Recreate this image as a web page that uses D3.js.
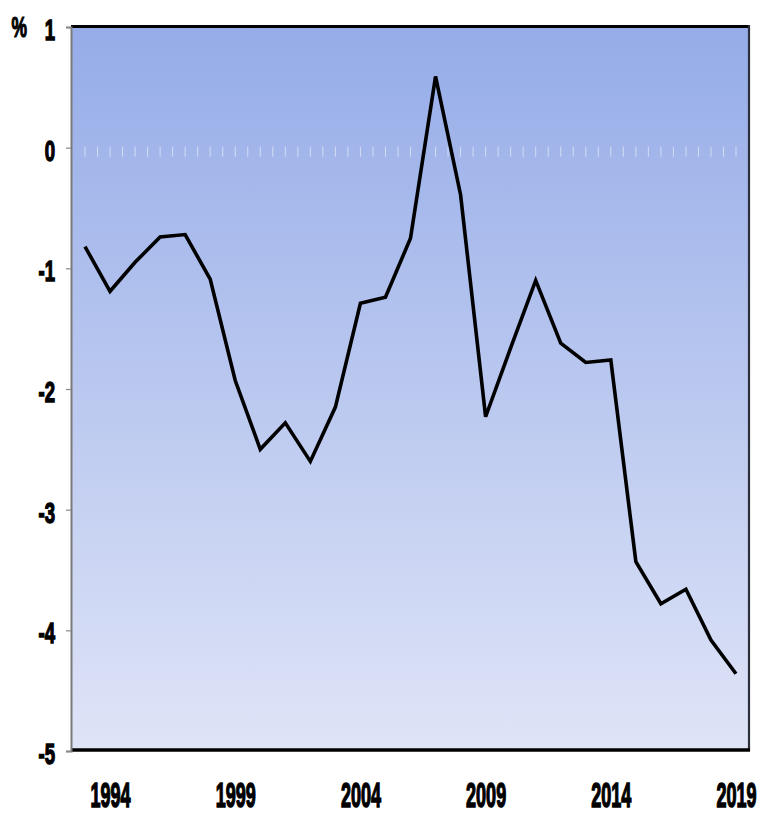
<!DOCTYPE html>
<html>
<head>
<meta charset="utf-8">
<script src="https://cdn.jsdelivr.net/npm/d3@7"></script>
<style>
  html, body { margin: 0; padding: 0; background: #ffffff; }
  svg { display: block; }
  text { font-family: "Liberation Sans", Arial, sans-serif; font-weight: bold; fill: #000; }
</style>
</head>
<body>
<div id="chart"></div>
<script>
// ---- data ----
const years = [1993, 1994, 1995, 1996, 1997, 1998, 1999, 2000, 2001, 2002, 2003, 2004, 2005, 2006,
               2007, 2008, 2009, 2010, 2011, 2012, 2013, 2014, 2015, 2016, 2017, 2018, 2019];
const values = [-0.82, -1.19, -0.95, -0.74, -0.72, -1.09, -1.93, -2.50, -2.28, -2.60, -2.15, -1.29, -1.24, -0.75,
                0.59, -0.39, -2.23, -1.66, -1.10, -1.62, -1.78, -1.76, -3.43, -3.78, -3.66, -4.08, -4.36];
const xTickLabels = [1994, 1999, 2004, 2009, 2014, 2019];
const yTicks = [1, 0, -1, -2, -3, -4, -5];
const unitLabel = "%";

// ---- layout ----
const W = 759, H = 814;
const plot = { left: 71, right: 749, top: 27, bottom: 751 };

const svg = d3.select("#chart").append("svg")
  .attr("width", W).attr("height", H);

const defs = svg.append("defs");
const grad = defs.append("linearGradient")
  .attr("id", "bg").attr("x1", 0).attr("y1", 0).attr("x2", 0).attr("y2", 1);
grad.append("stop").attr("offset", "0%").attr("stop-color", "#95ace8");
grad.append("stop").attr("offset", "100%").attr("stop-color", "#dfe4f7");

const x = d3.scalePoint().domain(years).range([85, 736]);
const y = d3.scaleLinear().domain([-5, 1]).range([plot.bottom, plot.top]);

// background
svg.append("rect")
  .attr("x", plot.left).attr("y", plot.top)
  .attr("width", plot.right - plot.left).attr("height", plot.bottom - plot.top)
  .attr("fill", "url(#bg)");

// zero-line ticks (category axis crossing at 0)
const halfTicks = [];
years.forEach((yr, i) => {
  halfTicks.push(x(yr));
  if (i < years.length - 1) halfTicks.push((x(yr) + x(years[i + 1])) / 2);
});
svg.append("g").selectAll("line").data(halfTicks).join("line")
  .attr("x1", d => d).attr("x2", d => d)
  .attr("y1", y(0) - 1).attr("y2", y(0) + 9)
  .attr("stroke", "#d4dbf5").attr("stroke-width", 1);

// frame
svg.append("line").attr("x1", plot.left).attr("x2", plot.right + 1)
  .attr("y1", plot.top - 0.5).attr("y2", plot.top - 0.5)
  .attr("stroke", "#000").attr("stroke-width", 3);
svg.append("line").attr("x1", plot.right).attr("x2", plot.right)
  .attr("y1", plot.top - 2).attr("y2", plot.bottom)
  .attr("stroke", "#2b303a").attr("stroke-width", 2.2);
svg.append("line").attr("x1", plot.left).attr("x2", plot.right + 1)
  .attr("y1", plot.bottom - 1).attr("y2", plot.bottom - 1)
  .attr("stroke", "#000").attr("stroke-width", 3.4);

// y axis
const yAxis = d3.axisLeft(y).tickValues(yTicks).tickSize(5).tickFormat(d3.format("d"));
const gy = svg.append("g").attr("transform", `translate(${plot.left},0)`).call(yAxis);
gy.select(".domain").attr("stroke", "#7a7a7a").attr("stroke-width", 2);
gy.selectAll(".tick line").attr("stroke", "#8a8a8a").attr("stroke-width", 1.2);
gy.selectAll(".tick text")
  .attr("x", 0).attr("dy", null).attr("y", 0)
  .attr("text-anchor", "end")
  .attr("font-size", 29)
  .attr("stroke", "#000").attr("stroke-width", 1.4)
  .attr("transform", "translate(-16,12.5) scale(0.64,1)")
  .text(d => d < 0 ? "-" + Math.abs(d) : d);

// unit label
svg.append("text")
  .attr("transform", `translate(11.5,37) scale(0.6,1)`)
  .attr("font-size", 29)
  .attr("stroke", "#000").attr("stroke-width", 1.2)
  .text(unitLabel);

// x axis labels
const xAxis = d3.axisBottom(x).tickValues(xTickLabels).tickSize(0).tickFormat(d3.format("d"));
const gx = svg.append("g").attr("transform", `translate(0,${plot.bottom})`).call(xAxis);
gx.select(".domain").remove();
gx.selectAll(".tick text")
  .attr("x", 0).attr("y", 0).attr("dy", null)
  .attr("text-anchor", "middle")
  .attr("font-size", 34)
  .attr("stroke", "#000").attr("stroke-width", 1.5)
  .attr("transform", "translate(0,55.5) scale(0.53,1.05)");

// data line
const line = d3.line().x((d, i) => x(years[i])).y(d => y(d));
svg.append("path")
  .datum(values)
  .attr("d", line)
  .attr("fill", "none")
  .attr("stroke", "#000")
  .attr("stroke-width", 3.6)
  .attr("stroke-linejoin", "miter");
</script>
</body>
</html>
